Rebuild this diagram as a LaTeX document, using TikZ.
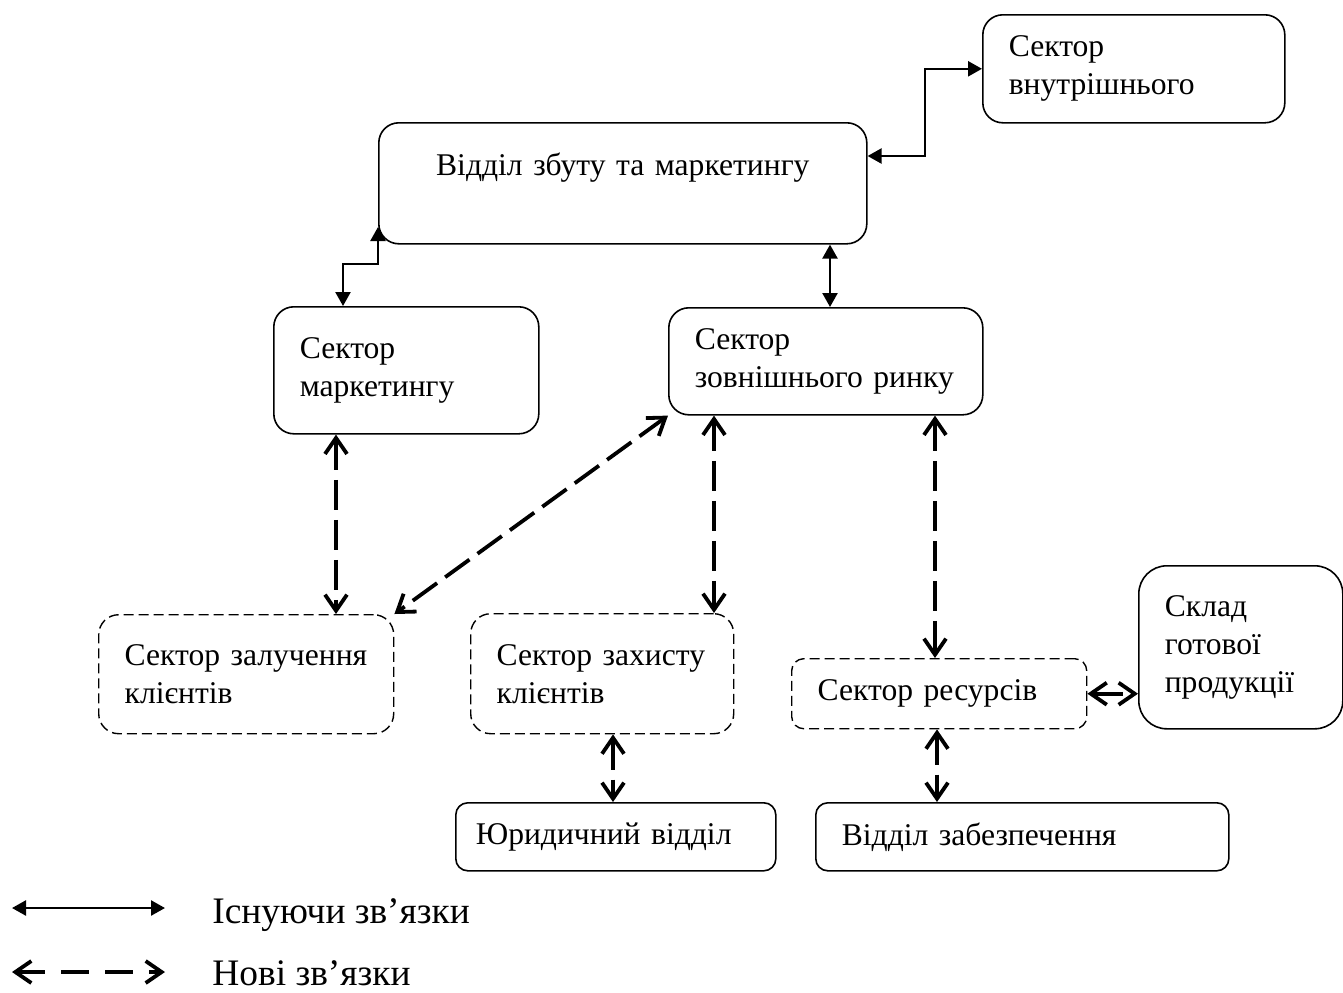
\documentclass[tikz,border=0pt]{standalone}
\usepackage{fontspec}
\setmainfont{Liberation Serif}
\usetikzlibrary{arrows.meta}

\begin{document}
\begin{tikzpicture}[x=0.5pt, y=-0.5pt,
    every node/.style={font=\fontsize{15.8}{19}\selectfont},
    unit/.style={draw, line width=0.8pt, rounded corners=10pt, anchor=north west,
      align=left, inner xsep=13pt, inner ysep=0pt},
    newunit/.style={unit, line width=0.7pt, dash pattern=on 5pt off 2.5pt},
    oldlink/.style={line width=1.2pt,
      {Triangle[length=7pt,width=7.5pt]}-{Triangle[length=7pt,width=7.5pt]}},
    newlink/.style={line width=1.9pt, dash pattern=on 15pt off 5pt,
      {Straight Barb[length=8pt,width=11pt]}-{Straight Barb[length=8pt,width=11pt]}},
    legendtext/.style={anchor=base west, inner sep=0pt, font=\fontsize{18.7}{22}\selectfont}]
  \useasboundingbox (0,0) rectangle (1343,992);

  \node[unit, text width=125pt, minimum height=54pt] (inner) at (982,14) {Сектор\\внутрішнього};
  \node[unit, align=center, text width=218pt, minimum height=60.5pt] (sales) at (378,122)
    {Відділ збуту та маркетингу\\~};
  \node[unit, text width=106.5pt, minimum height=63.5pt] (mkt) at (273,306) {Сектор\\маркетингу};
  \node[unit, text width=131pt, minimum height=53.5pt] (ext) at (668,307) {Сектор\\зовнішнього~ринку};
  \node[newunit, text width=121.5pt, minimum height=59.5pt] (attract) at (98,614)
    {Сектор~залучення\\клієнтів};
  \node[newunit, text width=105.5pt, minimum height=60pt] (protect) at (470,613)
    {Сектор~захисту\\клієнтів};
  \node[newunit, rounded corners=6pt, text width=121.5pt, minimum height=35pt] (res) at (791,658)
    {Сектор ресурсів};
  \node[unit, rounded corners=14pt, text width=76pt, minimum height=81.5pt] (stock) at (1138,565)
    {Склад\\готової\\продукції};
  \node[unit, rounded corners=6pt, inner xsep=10pt, text width=140pt, minimum height=34pt] (legal)
    at (455,802) {Юридичний відділ};
  \node[unit, rounded corners=6pt, text width=180.5pt, minimum height=34pt] (supply) at (815,802)
    {Відділ забезпечення};

  \draw[oldlink] (mkt.north -| 343,0) |- (378,264) -- (sales.west |- 0,227);
  \draw[oldlink] (sales.east |- 0,156) -| (925,0 |- inner.west) -- (inner.west);
  \draw[oldlink] (sales.south -| 830,0) -- (ext.north -| 830,0);

  \draw[newlink] (mkt.south -| 336,0) -- (attract.north -| 336,0);
  \draw[newlink] (ext.south west) -- (attract.north east);
  \draw[newlink] (ext.south -| 714,0) -- (protect.north -| 714,0);
  \draw[newlink] (ext.south -| 935,0) -- (res.north -| 935,0);
  \draw[newlink] (protect.south -| 613,0) -- (legal.north -| 613,0);
  \draw[newlink] (res.south -| 937,0) -- (supply.north -| 937,0);
  \draw[newlink] (res.east) -- (stock.west |- res.east);

  \coordinate (old1) at (12,908);
  \coordinate (old2) at (165,908);
  \draw[oldlink] (old1) -- (old2);
  \node[legendtext] (oldtext) at (212,923) {Існуючи зв’язки};
  \coordinate (new1) at (12,972);
  \coordinate (new2) at (165,972);
  \draw[newlink, dash pattern=on 14pt off 8pt] (new1) -- (new2);
  \node[legendtext] (newtext) at (212,985) {Нові зв’язки};
\end{tikzpicture}
\end{document}
